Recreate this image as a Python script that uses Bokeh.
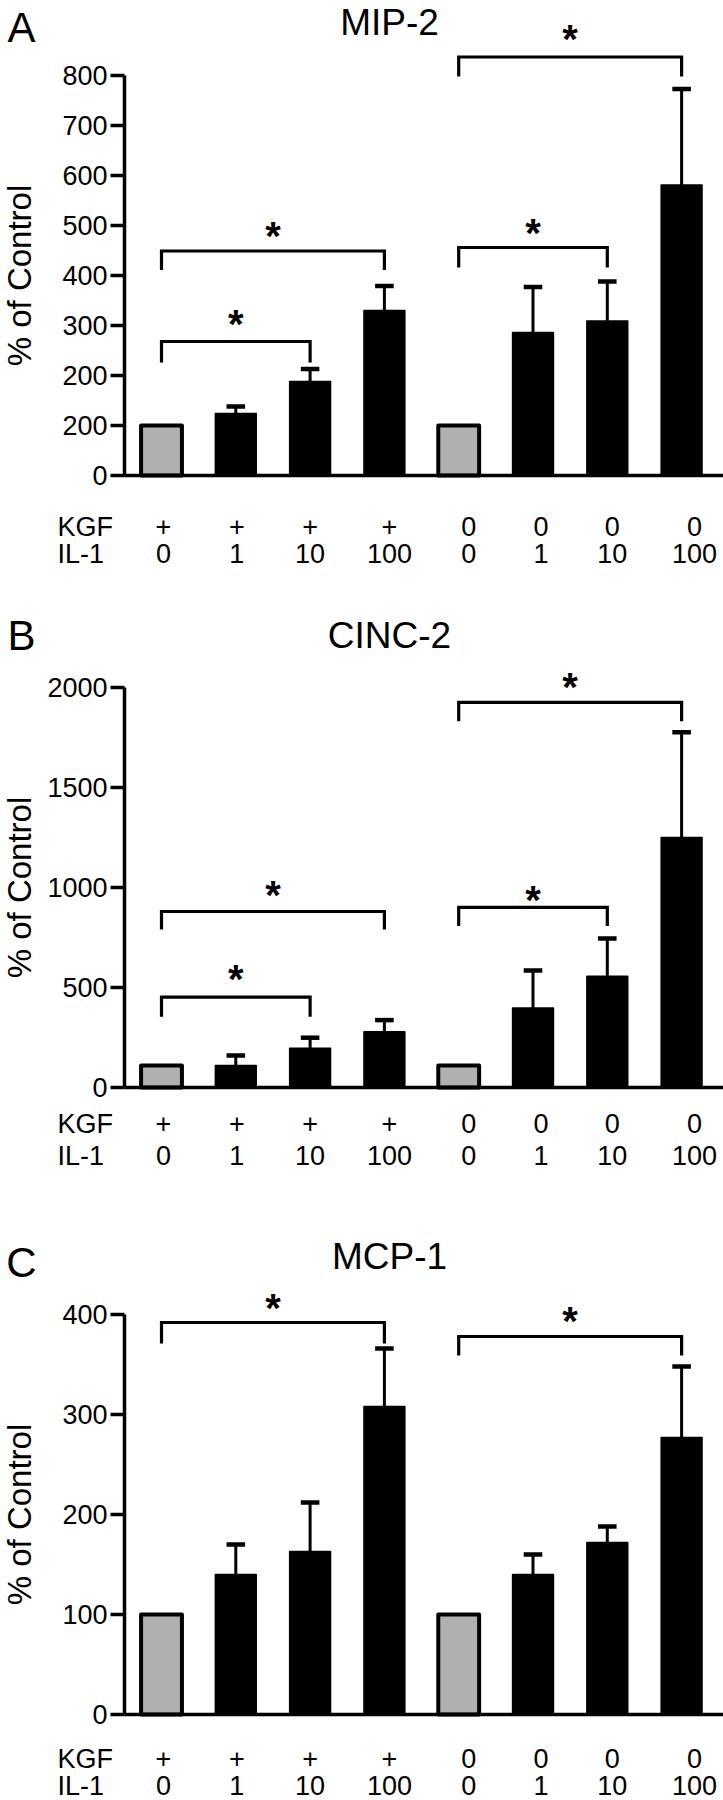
import math
from bokeh.plotting import figure
from bokeh.layouts import column
from bokeh.models import Label, FixedTicker, Range1d, LinearAxis
from bokeh.core.properties import value
from bokeh.embed import file_html
from bokeh.resources import INLINE

FONT = "Liberation Sans"

# ---------------- data ----------------
kgf_labels = ["+", "+", "+", "+", "0", "0", "0", "0"]
il1_labels = ["0", "1", "10", "100", "0", "1", "10", "100"]
is_control = [True, False, False, False, True, False, False, False]

mip2_mean = [100, 124, 188, 330, 100, 286, 309, 581]
mip2_upper = [None, 138, 213, 379, None, 377, 388, 773]
mip2_ticks = [0, 100, 200, 300, 400, 500, 600, 700, 800]
mip2_tick_labels = ["0", "200", "200", "300", "400", "500", "600", "700", "800"]
mip2_br_from = [0, 0, 4, 4]
mip2_br_to = [2, 3, 6, 7]
mip2_br_top = [268, 449, 456, 837]
mip2_br_low = [226, 411, 416, 798]
mip2_star = [316, 491, 497, 885]

cinc2_mean = [110, 110, 196, 279, 110, 397, 556, 1250]
cinc2_upper = [None, 160, 249, 337, None, 585, 745, 1776]
cinc2_ticks = [0, 500, 1000, 1500, 2000]
cinc2_tick_labels = ["0", "500", "1000", "1500", "2000"]
cinc2_br_from = [0, 0, 4, 4]
cinc2_br_to = [2, 3, 6, 7]
cinc2_br_top = [452, 880, 901, 1926]
cinc2_br_low = [354, 790, 807, 1831]
cinc2_star = [575, 995, 970, 2035]

mcp1_mean = [100, 140, 163, 308, 100, 140, 172, 277]
mcp1_upper = [None, 170, 212, 366, None, 160, 188, 348]
mcp1_ticks = [0, 100, 200, 300, 400]
mcp1_tick_labels = ["0", "100", "200", "300", "400"]
mcp1_br_from = [0, 4]
mcp1_br_to = [3, 7]
mcp1_br_top = [392, 378]
mcp1_br_low = [371, 359]
mcp1_star = [413, 400]

# ---------------- layout helpers ----------------
W = 723
PX_PER_X = 74.3
BAR0_PX = 161
X0 = -BAR0_PX / PX_PER_X
X1 = (W - BAR0_PX) / PX_PER_X
AXIS_X = (124 - BAR0_PX) / PX_PER_X

TICK_FS = "27px"
CAT_FS = "27px"
TITLE_FS = "37px"
LETTER_FS = "42px"
YLAB_FS = "33px"
STAR_FS = 40


def px_x(px):
    return (px - BAR0_PX) / PX_PER_X


def make_panel(letter, title, means, uppers, ticks, tick_labels,
               br_from, br_to, br_top, br_low, stars,
               fig_top, height, base_page, upp, axis_top_val,
               title_page, letter_page, kgf_page, il1_page):
    base_c = base_page - fig_top
    y0 = -(height - base_c) * upp
    y1 = base_c * upp

    def py(page):
        return (base_page - page) * upp

    p = figure(width=W, height=height, x_range=Range1d(X0, X1),
               y_range=Range1d(y0, y1), output_backend="svg",
               toolbar_location=None, title=None,
               x_axis_location=None, y_axis_location=None,
               min_border_left=0, min_border_right=0,
               min_border_top=0, min_border_bottom=0)
    p.xgrid.visible = False
    p.ygrid.visible = False
    p.outline_line_color = None
    p.background_fill_color = "white"
    p.border_fill_color = "white"

    ax = LinearAxis(fixed_location=AXIS_X)
    ax.ticker = FixedTicker(ticks=ticks)
    ax.major_label_overrides = {t: l for t, l in zip(ticks, tick_labels)}
    ax.bounds = (0, axis_top_val)
    ax.axis_line_width = 3.5
    ax.axis_line_color = "black"
    ax.major_tick_line_width = 3.5
    ax.major_tick_line_color = "black"
    ax.major_tick_out = 14
    ax.major_tick_in = 0
    ax.minor_tick_out = 0
    ax.minor_tick_in = 0
    ax.major_label_text_font = FONT
    ax.major_label_text_font_size = TICK_FS
    ax.major_label_text_color = "black"
    ax.major_label_standoff = 3
    p.add_layout(ax, "left")

    bx = LinearAxis(fixed_location=0)
    bx.ticker = FixedTicker(ticks=[])
    bx.bounds = (AXIS_X, X1)
    bx.axis_line_width = 3.5
    bx.axis_line_color = "black"
    bx.major_tick_out = 0
    bx.major_tick_in = 0
    bx.minor_tick_out = 0
    bx.minor_tick_in = 0
    bx.major_label_text_font_size = "0px"
    p.add_layout(bx, "below")

    idx = list(range(len(means)))
    colors = ["#b0b0b0" if c else "black" for c in is_control]
    lws = [4 if c else 1.5 for c in is_control]
    p.vbar(x=idx, top=means, bottom=0, width=0.55, fill_color=colors,
           line_color="black", line_width=lws, line_join="round")

    ex = [i for i in idx if uppers[i] is not None]
    p.segment(x0=ex, x1=ex, y0=[means[i] for i in ex],
              y1=[uppers[i] for i in ex], line_color="black", line_width=3)
    p.segment(x0=[i - 0.125 for i in ex], x1=[i + 0.125 for i in ex],
              y0=[uppers[i] for i in ex], y1=[uppers[i] for i in ex],
              line_color="black", line_width=4.5)

    xs = [[a, a, b, b] for a, b in zip(br_from, br_to)]
    ys = [[lo, hi, hi, lo] for hi, lo in zip(br_top, br_low)]
    p.multi_line(xs=xs, ys=ys, line_color="black", line_width=3.2,
                 line_join="miter")
    p.text(x=[(a + b) / 2 for a, b in zip(br_from, br_to)], y=stars,
           text=["*"] * len(stars), text_align="center",
           text_baseline="alphabetic", y_offset=6,
           text_font=value(FONT), text_font_style="bold",
           text_font_size=f"{STAR_FS}px", text_color="black")

    offs = [2, 1, 0, 5, 10, 8, 5, 13]
    for lab, yp in ((kgf_labels, kgf_page), (il1_labels, il1_page)):
        p.text(x=idx, y=[py(yp)] * len(idx), text=lab, x_offset=offs,
               text_align="center", text_baseline="middle",
               text_font=value(FONT), text_font_size=CAT_FS,
               text_color="black")

    for txt, yp in (("KGF", kgf_page), ("IL-1", il1_page)):
        p.add_layout(Label(x=px_x(57), y=py(yp), text=txt,
                           text_align="left", text_baseline="middle",
                           text_font=FONT, text_font_size=CAT_FS,
                           text_color="black"))
    p.add_layout(Label(x=px_x(389), y=py(title_page), text=title,
                       text_align="center", text_baseline="middle",
                       text_font=FONT, text_font_size=TITLE_FS,
                       text_color="black"))
    p.add_layout(Label(x=px_x(21), y=py(letter_page), text=letter,
                       text_align="center", text_baseline="middle",
                       text_font=FONT, text_font_size=LETTER_FS,
                       text_color="black"))
    p.add_layout(Label(x=px_x(19), y=axis_top_val / 2, text="% of Control",
                       angle=math.pi / 2, text_align="center",
                       text_baseline="middle", text_font=FONT,
                       text_font_size=YLAB_FS, text_color="black"))
    return p


pa = make_panel("A", "MIP-2", mip2_mean, mip2_upper, mip2_ticks,
                mip2_tick_labels, mip2_br_from, mip2_br_to, mip2_br_top,
                mip2_br_low, mip2_star,
                fig_top=0, height=595, base_page=475, upp=2.0,
                axis_top_val=800, title_page=22, letter_page=27,
                kgf_page=526, il1_page=553)
pb = make_panel("B", "CINC-2", cinc2_mean, cinc2_upper, cinc2_ticks,
                cinc2_tick_labels, cinc2_br_from, cinc2_br_to, cinc2_br_top,
                cinc2_br_low, cinc2_star,
                fig_top=595, height=585, base_page=1087, upp=5.0,
                axis_top_val=2000, title_page=635, letter_page=635,
                kgf_page=1123, il1_page=1155)
pc = make_panel("C", "MCP-1", mcp1_mean, mcp1_upper, mcp1_ticks,
                mcp1_tick_labels, mcp1_br_from, mcp1_br_to, mcp1_br_top,
                mcp1_br_low, mcp1_star,
                fig_top=1180, height=620, base_page=1714, upp=1.0,
                axis_top_val=400, title_page=1256, letter_page=1262,
                kgf_page=1758, il1_page=1785)

layout = column(pa, pb, pc, spacing=0)
open("out.html", "w").write(file_html(layout, INLINE))
